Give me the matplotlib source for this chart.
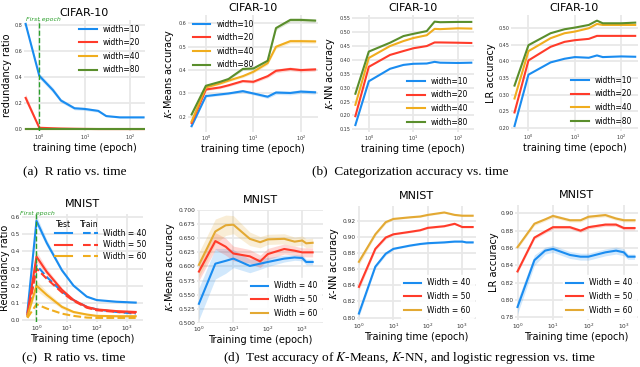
import numpy as np
import matplotlib.pyplot as plt
from matplotlib.ticker import LogLocator, NullLocator, MultipleLocator
from matplotlib.transforms import blended_transform_factory

plt.rcParams['font.family'] = 'DejaVu Sans'
plt.rcParams['mathtext.fontset'] = 'stix'

BLUE = '#1a8cf0'
RED = '#ff3b2a'
ORANGE = '#f0ad1e'
GREEN = '#5a8e2c'
GOLD = '#e3a933'

# 1. CIFAR-10 data (top row)
cifar_t = [0.5, 1, 2, 3, 6, 10, 20, 30, 60, 100, 200]
cifar_labels = ['width=10', 'width=20', 'width=40', 'width=80']

rr_w10 = [0.81, 0.41, 0.30, 0.22, 0.16, 0.155, 0.14, 0.10, 0.09, 0.09, 0.09]
rr_w20 = [0.24, 0.01, 0.006, 0.004, 0.002, 0.001, 0.0, 0.0, 0.0, 0.0, 0.0]
rr_w40 = [0.0, 0.0, 0.0, 0.0, 0.0, 0.0, 0.0, 0.0, 0.0, 0.0, 0.0]
rr_w80 = [0.0, 0.0, 0.0, 0.0, 0.0, 0.0, 0.0, 0.0, 0.0, 0.0, 0.0]
rr_w10_sd = [0.01, 0.02, 0.02, 0.015, 0.012, 0.012, 0.01, 0.006, 0.005, 0.005, 0.005]
rr_w20_sd = [0.03, 0.005, 0.004, 0.002, 0.0, 0.0, 0.0, 0.0, 0.0, 0.0, 0.0]

km_w10 = [0.16, 0.289, 0.296, 0.300, 0.310, 0.300, 0.286, 0.304, 0.302, 0.308, 0.305]
km_w20 = [0.174, 0.317, 0.326, 0.335, 0.353, 0.350, 0.374, 0.397, 0.405, 0.400, 0.403]
km_w40 = [0.18, 0.326, 0.343, 0.355, 0.374, 0.393, 0.430, 0.500, 0.524, 0.524, 0.523]
km_w80 = [0.21, 0.333, 0.350, 0.362, 0.405, 0.407, 0.440, 0.580, 0.615, 0.615, 0.612]
km_sd = [0.005, 0.005, 0.005, 0.005, 0.006, 0.006, 0.007, 0.008, 0.008, 0.008, 0.008]

knn_t = [0.5, 1, 3, 6, 10, 20, 30, 40, 100, 200]
knn_w10 = [0.165, 0.323, 0.368, 0.382, 0.386, 0.387, 0.393, 0.390, 0.389, 0.390]
knn_w20 = [0.197, 0.375, 0.418, 0.432, 0.442, 0.450, 0.463, 0.463, 0.462, 0.461]
knn_w40 = [0.238, 0.407, 0.450, 0.468, 0.479, 0.489, 0.512, 0.511, 0.514, 0.513]
knn_w80 = [0.278, 0.430, 0.462, 0.486, 0.494, 0.504, 0.538, 0.536, 0.537, 0.537]

lr_t = [0.5, 1, 3, 6, 10, 20, 30, 40, 100, 200]
lr_w10 = [0.205, 0.360, 0.397, 0.408, 0.413, 0.411, 0.418, 0.413, 0.415, 0.414]
lr_w20 = [0.246, 0.403, 0.444, 0.459, 0.464, 0.468, 0.477, 0.477, 0.477, 0.477]
lr_w40 = [0.288, 0.431, 0.470, 0.485, 0.490, 0.500, 0.513, 0.510, 0.510, 0.510]
lr_w80 = [0.327, 0.449, 0.485, 0.497, 0.502, 0.510, 0.523, 0.515, 0.515, 0.517]

# 2. MNIST data (bottom row)
mn_rr_t = [0.5, 1, 2.2, 7, 17, 47, 100, 460, 2000]
rr_test40 = [0.045, 0.58, 0.45, 0.29, 0.20, 0.135, 0.115, 0.105, 0.10]
rr_train40 = [0.025, 0.32, 0.25, 0.165, 0.115, 0.075, 0.06, 0.045, 0.035]
rr_test50 = [0.035, 0.37, 0.28, 0.175, 0.115, 0.075, 0.06, 0.05, 0.045]
rr_train50 = [0.02, 0.30, 0.24, 0.16, 0.11, 0.07, 0.055, 0.045, 0.04]
rr_test60 = [0.02, 0.20, 0.145, 0.075, 0.045, 0.03, 0.022, 0.02, 0.02]
rr_train60 = [0.01, 0.09, 0.065, 0.035, 0.022, 0.012, 0.01, 0.01, 0.01]
rr_test_sd = [0.01, 0.03, 0.02, 0.012, 0.008, 0.006, 0.005, 0.005, 0.005]
mnist_widths = ['Width = 40', 'Width = 50', 'Width = 60']

mn_t = [1, 3, 6, 10, 30, 60, 100, 300, 600, 1000, 1300, 2000]
mkm_w40 = [0.534, 0.605, 0.610, 0.614, 0.601, 0.605, 0.608, 0.614, 0.616, 0.615, 0.608, 0.608]
mkm_w50 = [0.591, 0.645, 0.635, 0.623, 0.618, 0.609, 0.622, 0.631, 0.628, 0.625, 0.625, 0.625]
mkm_w60 = [0.603, 0.662, 0.673, 0.674, 0.649, 0.643, 0.648, 0.649, 0.644, 0.646, 0.641, 0.642]
mkm_sd40 = [0.028, 0.027, 0.022, 0.016, 0.012, 0.010, 0.008, 0.006, 0.005, 0.005, 0.005, 0.005]
mkm_sd50 = [0.016, 0.015, 0.015, 0.013, 0.012, 0.011, 0.010, 0.009, 0.008, 0.008, 0.008, 0.008]
mkm_sd60 = [0.022, 0.022, 0.018, 0.016, 0.012, 0.010, 0.009, 0.009, 0.008, 0.008, 0.008, 0.008]

mknn_w40 = [0.805, 0.863, 0.879, 0.885, 0.889, 0.891, 0.892, 0.893, 0.894, 0.894, 0.893, 0.893]
mknn_w50 = [0.838, 0.885, 0.899, 0.903, 0.906, 0.908, 0.911, 0.913, 0.916, 0.912, 0.912, 0.912]
mknn_w60 = [0.869, 0.903, 0.918, 0.922, 0.924, 0.925, 0.927, 0.930, 0.927, 0.926, 0.926, 0.926]
mknn_sd = [0.004, 0.002, 0.002, 0.001, 0.001, 0.001, 0.001, 0.001, 0.001, 0.001, 0.001, 0.001]

mlr_w40 = [0.792, 0.846, 0.857, 0.859, 0.852, 0.850, 0.850, 0.855, 0.857, 0.855, 0.850, 0.850]
mlr_w50 = [0.833, 0.872, 0.879, 0.884, 0.884, 0.880, 0.884, 0.887, 0.887, 0.883, 0.883, 0.883]
mlr_w60 = [0.861, 0.888, 0.893, 0.897, 0.892, 0.892, 0.896, 0.898, 0.894, 0.892, 0.892, 0.892]
mlr_sd40 = [0.008, 0.006, 0.004, 0.004, 0.004, 0.004, 0.004, 0.004, 0.004, 0.004, 0.003, 0.003]
mlr_sd = [0.002, 0.002, 0.002, 0.002, 0.002, 0.002, 0.002, 0.002, 0.002, 0.002, 0.002, 0.002]

W, H = 640, 367
fig = plt.figure(figsize=(W / 100, H / 100), dpi=100)


def make_ax(left, right, top, bottom, tick_fs):
    ax = fig.add_axes([left / W, 1 - bottom / H, (right - left) / W, (bottom - top) / H])
    ax.set_xscale('log')
    ax.xaxis.set_major_locator(LogLocator(base=10, numticks=10))
    ax.xaxis.set_minor_locator(NullLocator())
    ax.grid(True, color='#e8e8e8', lw=1.3)
    ax.set_axisbelow(True)
    for s in ax.spines.values():
        s.set_visible(False)
    ax.tick_params(length=0, labelsize=tick_fs, pad=1.2, colors='#333333')
    return ax


def band(ax, t, y, sd, c):
    y = np.array(y)
    sd = np.array(sd)
    ax.fill_between(t, y - sd, y + sd, color=c, alpha=0.2, lw=0)


cols4 = [BLUE, RED, ORANGE, GREEN]
lab_fs = 7
tit_fs = 8

# 3. top row
ax = make_ax(24, 145, 20, 131, 3.5)
for y, c, l in zip([rr_w10, rr_w20, rr_w40, rr_w80], cols4, cifar_labels):
    ax.plot(cifar_t, y, color=c, lw=1.5, label=l)
band(ax, cifar_t, rr_w10, rr_w10_sd, BLUE)
band(ax, cifar_t, rr_w20, rr_w20_sd, RED)
ax.axvline(1, color='#2ca02c', ls='--', lw=1)
tr = blended_transform_factory(ax.transData, ax.transAxes)
ax.text(0.5, 1.0, 'First epoch', transform=tr, color='#2ca02c', style='italic',
        fontsize=4.5, ha='left', va='center')
ax.set_xlim(0.46, 215)
ax.set_ylim(-0.015, 0.84)
ax.yaxis.set_major_locator(MultipleLocator(0.2))
ax.set_title('CIFAR-10', fontsize=tit_fs, pad=3)
ax.set_ylabel('redundancy ratio', fontsize=lab_fs, labelpad=1.5)
ax.set_xlabel('training time (epoch)', fontsize=lab_fs, labelpad=0.5)
ax.legend(loc='upper right', fontsize=5.5, frameon=False, handlelength=2.3,
          borderaxespad=0.2, labelspacing=0.6)

ax = make_ax(188, 318, 15, 132, 3.5)
for y, c, l in zip([km_w10, km_w20, km_w40, km_w80], cols4, cifar_labels):
    ax.plot(cifar_t, y, color=c, lw=1.5, label=l)
    band(ax, cifar_t, y, km_sd, c)
ax.set_xlim(0.42, 230)
ax.set_ylim(0.135, 0.636)
ax.yaxis.set_major_locator(MultipleLocator(0.1))
ax.set_title('CIFAR-10', fontsize=tit_fs, pad=3)
ax.set_ylabel('$K$-Means accuracy', fontsize=lab_fs, labelpad=1.5)
ax.set_xlabel('training time (epoch)', fontsize=lab_fs, labelpad=0.5)
ax.legend(loc='upper left', fontsize=5.5, frameon=False, handlelength=2.3,
          borderaxespad=0.2, labelspacing=0.6)

ax = make_ax(352, 474, 15, 132, 3.5)
for y, c, l in zip([knn_w10, knn_w20, knn_w40, knn_w80], cols4, cifar_labels):
    ax.plot(knn_t, y, color=c, lw=1.5, label=l)
ax.set_xlim(0.42, 230)
ax.set_ylim(0.14, 0.562)
ax.yaxis.set_major_locator(MultipleLocator(0.05))
ax.set_title('CIFAR-10', fontsize=tit_fs, pad=3)
ax.set_ylabel('$K$-NN accuracy', fontsize=lab_fs, labelpad=1.5)
ax.set_xlabel('training time (epoch)', fontsize=lab_fs, labelpad=0.5)
ax.legend(loc='lower right', fontsize=5.5, frameon=False, handlelength=2.3,
          borderaxespad=0.3, labelspacing=0.6)

ax = make_ax(511, 638, 15, 131, 3.5)
for y, c, l in zip([lr_w10, lr_w20, lr_w40, lr_w80], cols4, cifar_labels):
    ax.plot(lr_t, y, color=c, lw=1.5, label=l)
ax.set_xlim(0.42, 230)
ax.set_ylim(0.19, 0.54)
ax.yaxis.set_major_locator(MultipleLocator(0.05))
ax.set_title('CIFAR-10', fontsize=tit_fs, pad=3)
ax.set_ylabel('LR accuracy', fontsize=lab_fs, labelpad=1.5)
ax.set_xlabel('training time (epoch)', fontsize=lab_fs, labelpad=0.5)
ax.legend(loc='lower right', fontsize=5.5, frameon=False, handlelength=2.3,
          borderaxespad=0.3, labelspacing=0.6)

# 4. bottom row
cols3 = [BLUE, RED, ORANGE]
ax = make_ax(22, 143, 214, 322, 4.2)
tests = [rr_test40, rr_test50, rr_test60]
trains = [rr_train40, rr_train50, rr_train60]
for yt, ytr, c in zip(tests, trains, cols3):
    band(ax, mn_rr_t, yt, rr_test_sd, c)
    ax.plot(mn_rr_t, yt, color=c, lw=1.5)
    ax.plot(mn_rr_t, ytr, color=c, lw=1.5, ls='--')
ax.axvline(1, color='#2ca02c', ls='--', lw=1)
tr = blended_transform_factory(ax.transData, ax.transAxes)
ax.text(1.1, 1.0, 'First epoch', transform=tr, color='#2ca02c', style='italic',
        fontsize=4.5, ha='center', va='center')
ax.set_xlim(0.33, 3500)
ax.set_ylim(-0.014, 0.62)
ax.yaxis.set_major_locator(MultipleLocator(0.1))
ax.set_title('MNIST', fontsize=tit_fs, pad=5)
ax.set_ylabel('Redundancy ratio', fontsize=lab_fs, labelpad=0.5)
ax.set_xlabel('Training time (epoch)', fontsize=lab_fs, labelpad=1)
# custom legend: solid = test, dashed = train
ax.text(0.34, 0.90, 'Test', transform=ax.transAxes, fontsize=5.5, ha='center', va='center')
ax.text(0.56, 0.90, 'Train', transform=ax.transAxes, fontsize=5.5, ha='center', va='center')
for i, (c, l) in enumerate(zip(cols3, mnist_widths)):
    yy = 0.82 - i * 0.105
    ax.plot([0.27, 0.41], [yy, yy], color=c, lw=1.5, transform=ax.transAxes)
    ax.plot([0.50, 0.63], [yy, yy], color=c, lw=1.5, ls='--', transform=ax.transAxes)
    ax.text(0.67, yy, l, transform=ax.transAxes, fontsize=5.5, va='center')

ax = make_ax(197, 323, 210, 323, 4.2)
for y, sd, c, l in zip([mkm_w40, mkm_w50, mkm_w60], [mkm_sd40, mkm_sd50, mkm_sd60],
                       [BLUE, RED, GOLD], mnist_widths):
    band(ax, mn_t, y, sd, c)
    ax.plot(mn_t, y, color=c, lw=1.5, label=l)
ax.set_xlim(0.88, 4000)
ax.set_ylim(0.5, 0.7)
ax.yaxis.set_major_locator(MultipleLocator(0.025))
ax.yaxis.set_major_formatter(plt.FormatStrFormatter('%.3f'))
ax.set_title('MNIST', fontsize=tit_fs, pad=5)
ax.set_ylabel('$K$-Means accuracy', fontsize=lab_fs, labelpad=1)
ax.set_xlabel('Training time (epoch)', fontsize=lab_fs, labelpad=1)
ax.legend(loc='lower right', fontsize=5.5, frameon=True, facecolor='white',
          edgecolor='white', framealpha=0.9, handlelength=2.3,
          borderaxespad=0.3, labelspacing=0.6)

ax = make_ax(357, 476, 206, 320, 4.2)
for y, c, l in zip([mknn_w40, mknn_w50, mknn_w60], [BLUE, RED, GOLD], mnist_widths):
    band(ax, mn_t, y, mknn_sd, c)
    ax.plot(mn_t, y, color=c, lw=1.5, label=l)
ax.set_xlim(0.88, 2500)
ax.set_ylim(0.797, 0.938)
ax.yaxis.set_major_locator(MultipleLocator(0.02))
ax.yaxis.set_major_formatter(plt.FormatStrFormatter('%.2f'))
ax.set_title('MNIST', fontsize=tit_fs, pad=5)
ax.set_ylabel('$K$-NN accuracy', fontsize=lab_fs, labelpad=1)
ax.set_xlabel('Training time (epoch)', fontsize=lab_fs, labelpad=1)
ax.legend(loc='lower right', fontsize=5.5, frameon=True, facecolor='white',
          edgecolor='white', framealpha=0.9, handlelength=2.3,
          borderaxespad=0.3, labelspacing=0.6)

ax = make_ax(515, 638, 205, 320, 4.2)
for y, sd, c, l in zip([mlr_w40, mlr_w50, mlr_w60], [mlr_sd40, mlr_sd, mlr_sd],
                       [BLUE, RED, GOLD], mnist_widths):
    band(ax, mn_t, y, sd, c)
    ax.plot(mn_t, y, color=c, lw=1.5, label=l)
ax.set_xlim(0.85, 2500)
ax.set_ylim(0.777, 0.9096)
ax.yaxis.set_major_locator(MultipleLocator(0.02))
ax.yaxis.set_major_formatter(plt.FormatStrFormatter('%.2f'))
ax.set_title('MNIST', fontsize=tit_fs, pad=5)
ax.set_ylabel('LR accuracy', fontsize=lab_fs, labelpad=1)
ax.set_xlabel('Training time (epoch)', fontsize=lab_fs, labelpad=1)
ax.legend(loc='lower right', fontsize=5.5, frameon=True, facecolor='white',
          edgecolor='white', framealpha=0.9, handlelength=2.3,
          borderaxespad=0.3, labelspacing=0.6)

# 5. captions
cap = dict(fontsize=9.5, family='Liberation Serif', ha='center', va='center')
fig.text(75 / W, 1 - 172 / H, '(a)  R ratio vs. time', **cap)
fig.text(410 / W, 1 - 172 / H, '(b)  Categorization accuracy vs. time', **cap)
fig.text(74 / W, 1 - 358 / H, '(c)  R ratio vs. time', **cap)
fig.text(410 / W, 1 - 358 / H,
         '(d)  Test accuracy of $K$-Means, $K$-NN, and logistic regression vs. time', **cap)

fig.savefig('out.png', dpi=100)
